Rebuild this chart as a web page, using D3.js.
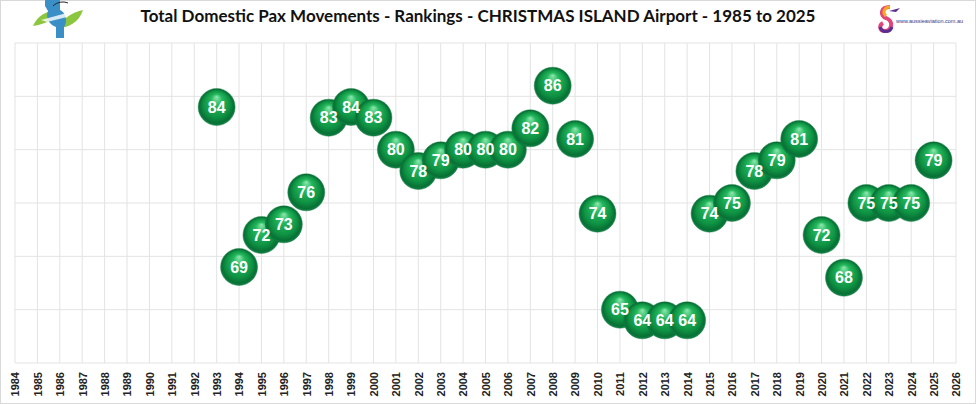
<!DOCTYPE html>
<html>
<head>
<meta charset="utf-8">
<script src="https://cdn.jsdelivr.net/npm/d3@7"></script>
<style>
  body { margin: 0; background: #fff; }
  svg { display: block; }
</style>
</head>
<body>
<div id="chart"></div>
<script>
const width = 980;
const height = 404;

// data
const years = [1993, 1994, 1995, 1996, 1997, 1998, 1999, 2000, 2001, 2002, 2003,
  2004, 2005, 2006, 2007, 2008, 2009, 2010, 2011, 2012, 2013, 2014, 2015,
  2016, 2017, 2018, 2019, 2020, 2021, 2022, 2023, 2024, 2025];
const ranks = [84, 69, 72, 73, 76, 83, 84, 83, 80, 78, 79,
  80, 80, 80, 82, 86, 81, 74, 65, 64, 64, 64, 74,
  75, 78, 79, 81, 72, 68, 75, 75, 75, 79];
const tickYears = d3.range(1984, 2027);
const yTicks = [60, 65, 70, 75, 80, 85, 90];

const title = "Total Domestic Pax Movements - Rankings - CHRISTMAS ISLAND Airport - 1985 to 2025";

const margin = { top: 43, right: 24, bottom: 41, left: 15 };

const svg = d3.select("#chart")
  .append("svg")
    .attr("width", width)
    .attr("height", height);

const defs = svg.append("defs");
const grad = defs.append("radialGradient")
    .attr("id", "ball")
    .attr("cx", "50%").attr("cy", "50%").attr("r", "50%")
    .attr("fx", "50%").attr("fy", "22%");
grad.append("stop").attr("offset", "0%").attr("stop-color", "#8fe8b0");
grad.append("stop").attr("offset", "30%").attr("stop-color", "#26b85e");
grad.append("stop").attr("offset", "72%").attr("stop-color", "#0e9243");
grad.append("stop").attr("offset", "92%").attr("stop-color", "#087035");
grad.append("stop").attr("offset", "100%").attr("stop-color", "#12874a");

// outer border
svg.append("rect")
    .attr("x", 0.5).attr("y", 0.5)
    .attr("width", width - 5).attr("height", height - 1)
    .attr("fill", "none")
    .attr("stroke", "#d9d9d9");

const x = d3.scaleLinear()
    .domain([1984, 2026])
    .range([margin.left, width - margin.right]);

const y = d3.scaleLinear()
    .domain([60, 90])
    .range([height - margin.bottom, margin.top]);

// grid
svg.append("g")
  .selectAll("line.v")
  .data(tickYears)
  .enter()
  .append("line")
    .attr("x1", d => x(d)).attr("x2", d => x(d))
    .attr("y1", y(90)).attr("y2", y(60))
    .attr("stroke", "#e3e3e3")
    .attr("stroke-width", 1);

svg.append("g")
  .selectAll("line.h")
  .data(yTicks)
  .enter()
  .append("line")
    .attr("x1", x(1984)).attr("x2", x(2026))
    .attr("y1", d => y(d)).attr("y2", d => y(d))
    .attr("stroke", "#e3e3e3")
    .attr("stroke-width", 1);

// x axis labels (rotated)
const xAxis = d3.axisBottom(x)
    .tickValues(tickYears)
    .tickFormat(d3.format("d"))
    .tickSize(0);

const gx = svg.append("g")
    .attr("transform", `translate(0, ${y(60)})`)
    .call(xAxis);
gx.select(".domain").remove();
gx.selectAll("text")
    .attr("transform", "rotate(-90)")
    .attr("x", -9)
    .attr("y", 0)
    .attr("dy", "0.35em")
    .attr("text-anchor", "end")
    .style("font-family", "Liberation Sans, Arial, sans-serif")
    .style("font-weight", "bold")
    .style("font-size", "11px")
    .style("fill", "#222");

// balls
const pts = years.map((yr, i) => ({ year: yr, rank: ranks[i] }));

svg.append("g")
  .selectAll("circle")
  .data(pts)
  .enter()
  .append("circle")
    .attr("cx", d => x(d.year))
    .attr("cy", d => y(d.rank))
    .attr("r", 18.5)
    .attr("fill", "url(#ball)")
    .attr("stroke", "#0b6a31")
    .attr("stroke-width", 0.4);

svg.append("g")
  .selectAll("text")
  .data(pts)
  .enter()
  .append("text")
    .attr("x", d => x(d.year))
    .attr("y", d => y(d.rank))
    .attr("dy", "0.36em")
    .attr("text-anchor", "middle")
    .style("font-family", "Liberation Sans, Arial, sans-serif")
    .style("font-weight", "bold")
    .style("font-size", "16px")
    .style("fill", "#fff")
    .text(d => d.rank);

// title
svg.append("text")
    .attr("x", 478)
    .attr("y", 22)
    .attr("text-anchor", "middle")
    .style("font-family", "Lato, sans-serif")
    .style("font-weight", "bold")
    .style("font-size", "17px")
    .style("fill", "#111")
    .text(title);

// left logo (rough)
const logo = svg.append("g").attr("transform", "translate(33, 0)");
logo.append("path")
    .attr("d", "M0,26 C4,16 14,10 26,10 C22,20 12,24 0,26 Z")
    .attr("fill", "#8cc63f");
logo.append("path")
    .attr("d", "M50,10 C46,22 36,28 24,28 C30,18 40,12 50,10 Z")
    .attr("fill", "#8cc63f");
logo.append("path")
    .attr("d", "M12,0 L27,0 L27,10 C33,13 35,21 31,27 L31,38 L23,38 L23,27 C17,25 12,18 15,11 L12,6 Z")
    .attr("fill", "#3a8fc6");
logo.append("path")
    .attr("d", "M8,20 L30,14 L40,12 L34,17 L14,22 Z")
    .attr("fill", "#ffffff")
    .attr("opacity", 0.8);
logo.append("path")
    .attr("d", "M20,6 C24,2 30,1 35,3")
    .attr("fill", "none")
    .attr("stroke", "#222")
    .attr("stroke-width", 1);

// right logo (rough)
const logo2 = svg.append("g").attr("transform", "translate(876, 5)");
logo2.append("path")
    .attr("d", "M14,2 C4,2 4,11 10,13 C18,16 16,26 9,26 C3,26 3,20 7,18")
    .attr("fill", "none")
    .attr("stroke", "#e0457b")
    .attr("stroke-width", 4);
logo2.append("path")
    .attr("d", "M14,2 C8,2 6,8 10,11")
    .attr("fill", "none")
    .attr("stroke", "#f5a623")
    .attr("stroke-width", 3);
logo2.append("path")
    .attr("d", "M4,22 C6,28 14,28 16,22")
    .attr("fill", "none")
    .attr("stroke", "#5b2d90")
    .attr("stroke-width", 3);
logo2.append("path")
    .attr("d", "M13,6 L24,3 L20,7 Z")
    .attr("fill", "#5b2d90");
logo2.append("text")
    .attr("x", 20)
    .attr("y", 18)
    .attr("textLength", 67)
    .attr("lengthAdjust", "spacingAndGlyphs")
    .style("font-family", "Liberation Sans, Arial, sans-serif")
    .style("font-size", "6px")
    .style("fill", "#2a3a8c")
    .text("www.aussieaviation.com.au");
</script>
</body>
</html>
